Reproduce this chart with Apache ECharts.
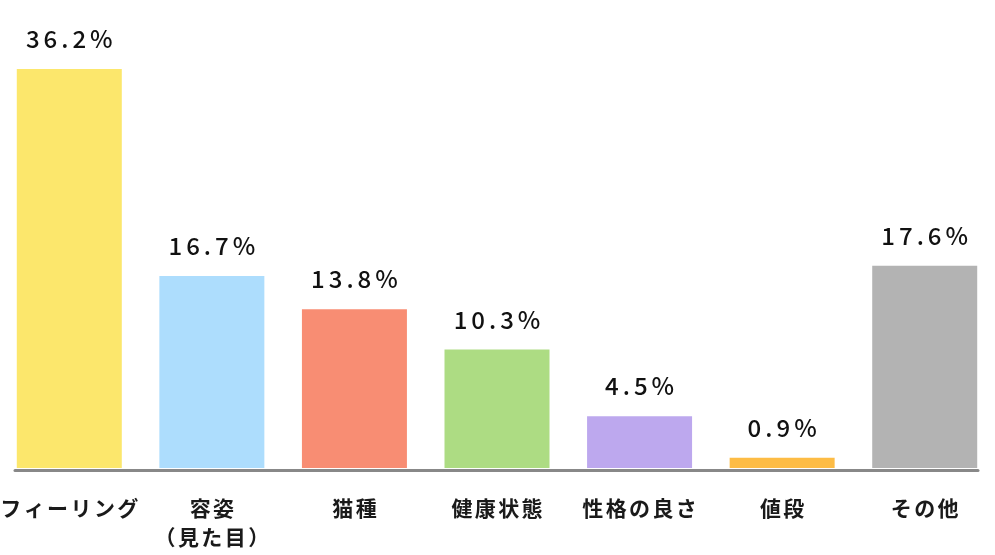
<!DOCTYPE html>
<html>
<head>
<meta charset="utf-8">
<script src="https://cdn.jsdelivr.net/npm/echarts@6/dist/echarts.min.js"></script>
<style>
html,body{margin:0;padding:0;background:#fff;}
#c{width:995px;height:555px;}
</style>
</head>
<body>
<div id="c"></div>
<script>
const categories = ['フィーリング', '容姿\n（見た目）', '猫種', '健康状態', '性格の良さ', '値段', 'その他'];
const values = [36.2, 16.7, 13.8, 10.3, 4.5, 0.9, 17.6];
const barColors = ['#FCE76C', '#ADDDFD', '#F88D73', '#ADDC83', '#BDA8EE', '#FDBC45', '#B3B3B3'];

function spaced(str, style) {
  return str.split('\n').map(line => Array.from(line).map(ch => '{' + style + '|' + ch + '}').join('')).join('\n');
}

const font = '"Noto Sans CJK JP", "Noto Sans", sans-serif';
const chart = echarts.init(document.getElementById('c'), null, {renderer: 'canvas'});
chart.setOption({
  animation: false,
  backgroundColor: '#ffffff',
  grid: [
    {left: -2, right: -1, top: 69, bottom: 87, containLabel: false, outerBoundsMode: 'none'},
    {left: 15, right: 17, top: 69, bottom: 85, containLabel: false, outerBoundsMode: 'none'}
  ],
  xAxis: [
    {
      type: 'category', gridIndex: 0, data: categories,
      axisLine: {show: false}, axisTick: {show: false},
      axisLabel: {
        interval: 0, margin: 26,
        formatter: v => spaced(v, 'c'),
        rich: {c: {fontFamily: font, fontSize: 21, fontWeight: 'bold', color: '#1a1a1a', padding: [0, 1.2], lineHeight: 29}}
      }
    },
    {
      type: 'value', gridIndex: 1,
      axisLine: {show: true, onZero: false, lineStyle: {color: '#888888', width: 3}},
      axisTick: {show: false}, axisLabel: {show: false}, splitLine: {show: false}
    }
  ],
  yAxis: [
    {type: 'value', gridIndex: 0, min: 0, max: 34.7, show: false},
    {type: 'value', gridIndex: 1, show: false}
  ],
  series: [{
    type: 'bar', xAxisIndex: 0, yAxisIndex: 0,
    barWidth: 105,
    clip: true,
    data: values.map((v, i) => ({value: v, itemStyle: {color: barColors[i]}})),
    label: {
      show: true, position: 'top', distance: 18,
      formatter: p => spaced(p.value.toFixed(1) + '%', 'v'),
      rich: {v: {fontFamily: font, fontSize: 24, fontWeight: 500, color: '#111', padding: [0, 2], lineHeight: 24}}
    }
  }]
});
</script>
</body>
</html>
